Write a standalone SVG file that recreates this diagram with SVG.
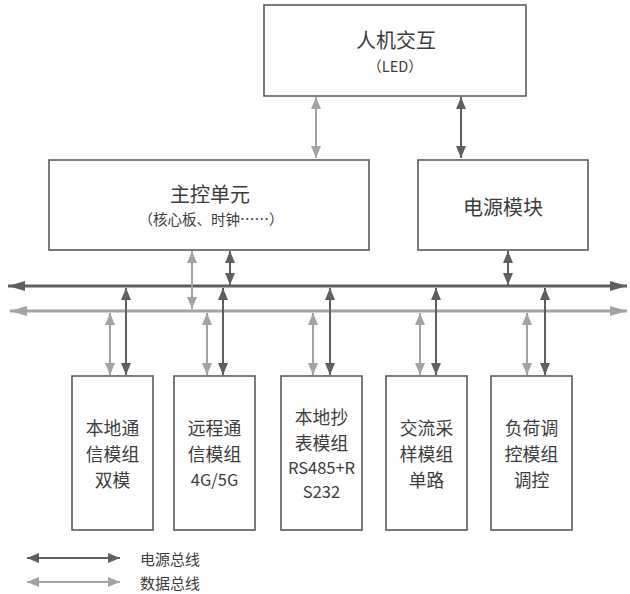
<svg xmlns="http://www.w3.org/2000/svg" width="630" height="594" viewBox="0 0 630 594">
<style>
.box{fill:#fff;stroke:#5a5a5a;stroke-width:1.6}
.t{font-family:"Noto Sans CJK SC","Noto Sans",sans-serif;fill:#3c3c3c;text-anchor:middle;dominant-baseline:central}
.big{font-size:20px}
.mod{font-size:17.8px}
.lat{font-size:16.5px}
.sm{font-size:14.5px}
.pw{stroke:#5f5f5f;fill:none}
.dt{stroke:#a3a3a3;fill:none}
.lg{font-family:"Noto Sans CJK SC","Noto Sans",sans-serif;fill:#3c3c3c;font-size:15px;dominant-baseline:central}
</style>
<defs>
<marker id="ap" markerUnits="userSpaceOnUse" markerWidth="12" markerHeight="10" refX="12" refY="5" orient="auto-start-reverse"><path d="M0,0 L12,5 L0,10 z" fill="#5f5f5f"/></marker>
<marker id="ad" markerUnits="userSpaceOnUse" markerWidth="12" markerHeight="10" refX="12" refY="5" orient="auto-start-reverse"><path d="M0,0 L12,5 L0,10 z" fill="#a3a3a3"/></marker>
<marker id="bp" markerUnits="userSpaceOnUse" markerWidth="17" markerHeight="10" refX="17" refY="5" orient="auto-start-reverse"><path d="M0,0 L17,5 L0,10 z" fill="#5f5f5f"/></marker>
<marker id="bd" markerUnits="userSpaceOnUse" markerWidth="17" markerHeight="10" refX="17" refY="5" orient="auto-start-reverse"><path d="M0,0 L17,5 L0,10 z" fill="#a3a3a3"/></marker>
</defs>
<g id="connectors">
<line class="dt" x1="316" y1="97" x2="316" y2="158" stroke-width="2" marker-start="url(#ad)" marker-end="url(#ad)"/>
<line class="pw" x1="461" y1="97" x2="461" y2="158" stroke-width="2" marker-start="url(#ap)" marker-end="url(#ap)"/>
<line class="pw" x1="8" y1="286" x2="627" y2="286" stroke-width="3" marker-start="url(#bp)" marker-end="url(#bp)"/>
<line class="dt" x1="10" y1="311" x2="627" y2="311" stroke-width="3" marker-start="url(#bd)" marker-end="url(#bd)"/>
<line class="dt" x1="192" y1="251" x2="192" y2="309" stroke-width="2" marker-start="url(#ad)" marker-end="url(#ad)"/>
<line class="pw" x1="230" y1="251" x2="230" y2="285" stroke-width="2" marker-start="url(#ap)" marker-end="url(#ap)"/>
<line class="pw" x1="508" y1="251" x2="508" y2="285" stroke-width="2" marker-start="url(#ap)" marker-end="url(#ap)"/>
<line class="dt" x1="110" y1="313" x2="110" y2="375" stroke-width="2" marker-start="url(#ad)" marker-end="url(#ad)"/>
<line class="pw" x1="126" y1="288" x2="126" y2="375" stroke-width="2" marker-start="url(#ap)" marker-end="url(#ap)"/>
<line class="dt" x1="207" y1="313" x2="207" y2="375" stroke-width="2" marker-start="url(#ad)" marker-end="url(#ad)"/>
<line class="pw" x1="223" y1="288" x2="223" y2="375" stroke-width="2" marker-start="url(#ap)" marker-end="url(#ap)"/>
<line class="dt" x1="313" y1="313" x2="313" y2="375" stroke-width="2" marker-start="url(#ad)" marker-end="url(#ad)"/>
<line class="pw" x1="330" y1="288" x2="330" y2="375" stroke-width="2" marker-start="url(#ap)" marker-end="url(#ap)"/>
<line class="dt" x1="420" y1="313" x2="420" y2="375" stroke-width="2" marker-start="url(#ad)" marker-end="url(#ad)"/>
<line class="pw" x1="436" y1="288" x2="436" y2="375" stroke-width="2" marker-start="url(#ap)" marker-end="url(#ap)"/>
<line class="dt" x1="527" y1="313" x2="527" y2="375" stroke-width="2" marker-start="url(#ad)" marker-end="url(#ad)"/>
<line class="pw" x1="545" y1="288" x2="545" y2="375" stroke-width="2" marker-start="url(#ap)" marker-end="url(#ap)"/>
</g>
<g id="hmi">
<rect class="box" x="264" y="5" width="262" height="91"/>
<text class="t big" x="396" y="39">人机交互</text>
<text class="t sm" x="395" y="65">（LED）</text>
</g>
<g id="main">
<rect class="box" x="49" y="160" width="320" height="90"/>
<text class="t big" x="210" y="193">主控单元</text>
<text class="t sm" x="211" y="218">（核心板、时钟……）</text>
</g>
<g id="power">
<rect class="box" x="418" y="160" width="170" height="90"/>
<text class="t big" x="503" y="206">电源模块</text>
</g>
<g id="m1">
<rect class="box" x="72" y="376" width="81" height="154"/>
<text class="t mod" x="112.5" y="427">本地通</text>
<text class="t mod" x="112.5" y="453">信模组</text>
<text class="t mod" x="112.5" y="479">双模</text>
</g>
<g id="m2">
<rect class="box" x="174" y="376" width="81" height="154"/>
<text class="t mod" x="214.5" y="427">远程通</text>
<text class="t mod" x="214.5" y="453">信模组</text>
<text class="t lat" x="214.5" y="479">4G/5G</text>
</g>
<g id="m3">
<rect class="box" x="281" y="376" width="81" height="154"/>
<text class="t mod" x="321.5" y="416">本地抄</text>
<text class="t mod" x="321.5" y="442">表模组</text>
<text class="t lat" x="321.5" y="467">RS485+R</text>
<text class="t lat" x="321.5" y="491">S232</text>
</g>
<g id="m4">
<rect class="box" x="386" y="376" width="81" height="154"/>
<text class="t mod" x="426.5" y="427">交流采</text>
<text class="t mod" x="426.5" y="453">样模组</text>
<text class="t mod" x="426.5" y="479">单路</text>
</g>
<g id="m5">
<rect class="box" x="491" y="376" width="81" height="154"/>
<text class="t mod" x="531.5" y="427">负荷调</text>
<text class="t mod" x="531.5" y="453">控模组</text>
<text class="t mod" x="531.5" y="479">调控</text>
</g>
<g id="legend">
<line class="pw" x1="27" y1="558" x2="120" y2="558" stroke-width="2" marker-start="url(#ap)" marker-end="url(#ap)"/>
<line class="dt" x1="27" y1="582" x2="120" y2="582" stroke-width="2" marker-start="url(#ad)" marker-end="url(#ad)"/>
<text class="lg" x="140" y="558">电源总线</text>
<text class="lg" x="140" y="582">数据总线</text>
</g>
</svg>
